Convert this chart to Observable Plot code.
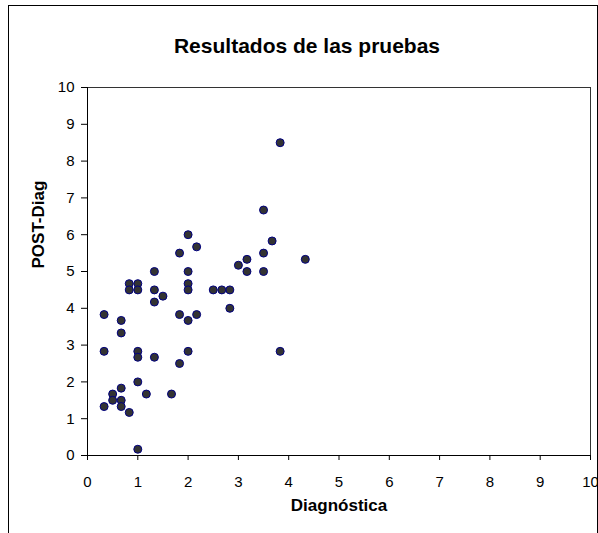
<!DOCTYPE html>
<html><head><meta charset="utf-8">
<script src="https://cdn.jsdelivr.net/npm/d3@7"></script>
<script src="https://cdn.jsdelivr.net/npm/@observablehq/plot@0.6"></script>
<style>
body{margin:0;background:#fff;}
#wrap{position:relative;width:598px;height:533px;overflow:hidden;}
#border{position:absolute;left:8px;top:5px;width:588px;height:600px;border:1px solid #000;}
#chart{position:absolute;left:0;top:0;}
</style></head><body>
<div id="wrap"><div id="border"></div><div id="chart"></div></div>
<script>
const diagnostica = [0.83,1,0.83,1,1.33,1.5,1.33,2,2,2.5,0.33,0.67,0.67,1.83,2,2.17,0.33,1,1,1.33,1.83,2,1,0.5,0.67,0.5,0.67,0.67,0.33,0.83,1.17,1.67,1,2,2.17,1.83,2,2.67,2.83,2.83,3.83,3,3.17,3.17,3.5,3.5,3.67,4.33,3.83,3.5,1.33];
const postDiag   = [4.67,4.67,4.5,4.5,4.5,4.33,4.17,4.67,4.5,4.5,3.83,3.67,3.33,3.83,3.67,3.83,2.83,2.83,2.67,2.67,2.5,2.83,2,1.67,1.83,1.5,1.5,1.33,1.33,1.17,1.67,1.67,0.17,6,5.67,5.5,5,4.5,4.5,4,2.83,5.17,5.33,5,5.5,5,5.83,5.33,8.5,6.67,5];
const xTicks = [0,1,2,3,4,5,6,7,8,9,10];
const yTicks = [0,1,2,3,4,5,6,7,8,9,10];
const titleText = "Resultados de las pruebas";
const xLabel = "Diagnóstica";
const yLabel = "POST-Diag";

const data = diagnostica.map((d,i)=>({x:d,y:postDiag[i]}));
const font = "'Liberation Sans', Arial, sans-serif";
const chart = Plot.plot({
  width:598, height:533,
  marginLeft:87, marginRight:8, marginTop:87, marginBottom:78,
  style:{fontFamily:font, fontSize:"15px", color:"#000", background:"transparent", overflow:"visible"},
  x:{domain:[0,10]},
  y:{domain:[0,10]},
  marks:[
    Plot.frame({stroke:"#333"}),
    Plot.axisX({ticks:xTicks, tickSize:5, tickPadding:16, label:null, fontSize:15, stroke:"#000"}),
    Plot.axisY({ticks:yTicks, tickSize:6, tickPadding:7, label:null, fontSize:15, stroke:"#000"}),
    Plot.ruleY([0],{stroke:"#000"}),
    Plot.ruleX([0],{stroke:"#000"}),
    Plot.dot(data,{x:"x", y:"y", r:4, fill:"#333", stroke:"#000080", strokeWidth:1}),
    Plot.text([titleText],{frameAnchor:"top", dx:-32, dy:-49, fontWeight:"bold", fontSize:21}),
    Plot.text([xLabel],{frameAnchor:"bottom", dy:55, fontWeight:"bold", fontSize:17}),
    Plot.text([yLabel],{frameAnchor:"left", dx:-49, dy:-3, rotate:-90, fontWeight:"bold", fontSize:17})
  ]
});
document.getElementById("chart").appendChild(chart);
</script>
</body></html>
